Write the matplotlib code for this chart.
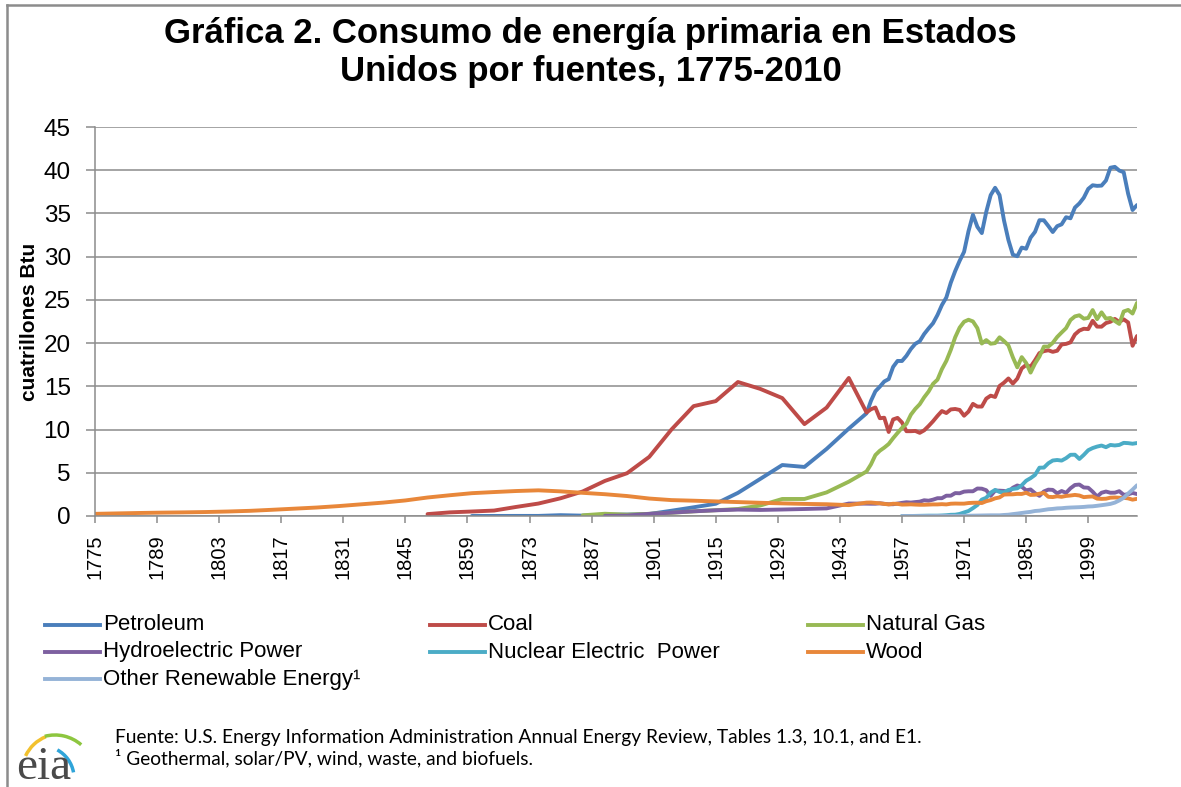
import matplotlib
matplotlib.use('Agg')
import matplotlib.pyplot as plt
from matplotlib.lines import Line2D
from matplotlib.patches import Arc

# ---- data (quadrillion Btu), 5-year steps before 1949, annual after ----
years_5 = list(range(1775, 1950, 5))
years_an = list(range(1949, 2011))
years_nuc = list(range(1957, 2011))

petroleum_early = [0.003, 0.006, 0.011, 0.011, 0.096, 0.040, 0.156, 0.168,
                   0.229, 0.610, 1.007, 1.418, 2.676, 4.280, 5.897, 5.675,
                   7.760, 10.110]  # 1860-1945
petroleum = [11.88, 13.32, 14.43, 14.96, 15.56, 15.84, 17.25, 17.94, 17.93,
             18.53, 19.32, 19.92, 20.22, 21.05, 21.70, 22.30, 23.25, 24.40,
             25.28, 26.98, 28.34, 29.52, 30.56, 32.95, 34.84, 33.45, 32.73,
             35.18, 37.12, 37.97, 37.12, 34.20, 31.93, 30.23, 30.05, 31.05,
             30.92, 32.20, 32.87, 34.22, 34.21, 33.55, 32.85, 33.53, 33.74,
             34.56, 34.44, 35.68, 36.16, 36.82, 37.84, 38.26, 38.19, 38.22,
             38.81, 40.29, 40.39, 39.96, 39.77, 37.28, 35.40, 35.97]

coal_early = [0.22, 0.42, 0.52, 0.63, 1.05, 1.44, 2.05, 2.84, 4.06, 4.95,
              6.84, 10.00, 12.71, 13.29, 15.50, 14.71, 13.64, 10.63, 12.54,
              15.97]  # 1850-1945
coal = [11.98, 12.35, 12.55, 11.31, 11.37, 9.72, 11.17, 11.35, 10.82, 9.81,
        9.81, 9.84, 9.62, 9.91, 10.41, 10.96, 11.58, 12.14, 11.91, 12.33,
        12.38, 12.27, 11.60, 12.08, 12.97, 12.66, 12.66, 13.58, 13.92, 13.77,
        15.04, 15.42, 15.91, 15.32, 15.89, 17.07, 17.48, 17.26, 18.01, 18.85,
        19.07, 19.17, 18.99, 19.12, 19.84, 19.91, 20.09, 21.00, 21.45, 21.66,
        21.62, 22.58, 21.91, 21.90, 22.32, 22.47, 22.80, 22.45, 22.75, 22.39,
        19.69, 20.82]

gas_early = [0.08, 0.26, 0.15, 0.25, 0.37, 0.54, 0.67, 0.81, 1.21, 1.97,
             1.97, 2.73, 3.97]  # 1885-1945
gas = [5.15, 5.97, 7.05, 7.55, 7.91, 8.33, 9.00, 9.61, 10.19, 10.66, 11.72,
       12.39, 12.93, 13.73, 14.40, 15.29, 15.77, 16.99, 17.94, 19.21, 20.68,
       21.79, 22.47, 22.70, 22.51, 21.73, 19.95, 20.35, 19.93, 20.00, 20.67,
       20.24, 19.74, 18.36, 17.20, 18.38, 17.70, 16.59, 17.64, 18.45, 19.60,
       19.60, 20.03, 20.71, 21.23, 21.73, 22.67, 23.09, 23.22, 22.83, 22.91,
       23.82, 22.77, 23.56, 22.83, 22.91, 22.56, 22.22, 23.66, 23.84, 23.42,
       24.65]

hydro_early = [0.02, 0.05, 0.25, 0.39, 0.54, 0.66, 0.74, 0.70, 0.75, 0.81,
               0.88, 1.44]  # 1890-1945
hydro = [1.43, 1.42, 1.42, 1.47, 1.41, 1.36, 1.36, 1.44, 1.52, 1.59, 1.55,
         1.61, 1.66, 1.82, 1.77, 1.89, 2.06, 2.06, 2.35, 2.35, 2.65, 2.63,
         2.82, 2.86, 2.86, 3.18, 3.16, 2.98, 2.33, 2.94, 2.93, 2.90, 2.76,
         3.27, 3.53, 3.39, 2.97, 3.07, 2.64, 2.33, 2.84, 3.05, 3.02, 2.62,
         2.89, 2.68, 3.21, 3.59, 3.64, 3.30, 3.27, 2.81, 2.24, 2.69, 2.83,
         2.69, 2.70, 2.87, 2.45, 2.51, 2.67, 2.54]

nuclear = [0.00, 0.00, 0.00, 0.01, 0.02, 0.03, 0.04, 0.04, 0.04, 0.06, 0.09,
           0.14, 0.15, 0.24, 0.41, 0.58, 0.91, 1.27, 1.90, 2.11, 2.70, 3.02,
           2.78, 2.74, 3.01, 3.13, 3.20, 3.55, 4.08, 4.38, 4.75, 5.59, 5.60,
           6.10, 6.42, 6.48, 6.41, 6.69, 7.08, 7.09, 6.60, 7.07, 7.61, 7.86,
           8.03, 8.15, 7.96, 8.22, 8.16, 8.22, 8.46, 8.43, 8.36, 8.44]

wood_early = [0.25, 0.30, 0.35, 0.39, 0.42, 0.46, 0.52, 0.60, 0.72, 0.85,
              0.98, 1.15, 1.35, 1.55, 1.80, 2.14, 2.40, 2.64, 2.77, 2.89,
              2.97, 2.85, 2.68, 2.52, 2.31, 2.02, 1.84, 1.77, 1.69, 1.61,
              1.53, 1.46, 1.40, 1.36, 1.26]  # 1775-1945
wood = [1.55, 1.56, 1.51, 1.47, 1.40, 1.34, 1.42, 1.40, 1.32, 1.33, 1.35,
        1.32, 1.30, 1.30, 1.32, 1.34, 1.34, 1.37, 1.34, 1.42, 1.44, 1.43,
        1.43, 1.50, 1.53, 1.54, 1.50, 1.71, 1.84, 2.04, 2.15, 2.48, 2.50,
        2.51, 2.56, 2.55, 2.69, 2.44, 2.46, 2.58, 2.68, 2.22, 2.19, 2.28,
        2.22, 2.32, 2.37, 2.44, 2.37, 2.18, 2.23, 2.26, 2.01, 1.98, 2.00,
        2.12, 2.14, 2.11, 2.10, 2.04, 1.89, 1.99]

other = [0.00, 0.00, 0.00, 0.00, 0.00, 0.00, 0.00, 0.00, 0.01, 0.01, 0.01,
         0.01, 0.01, 0.01, 0.02, 0.03, 0.04, 0.05, 0.06, 0.07, 0.08, 0.08,
         0.08, 0.12, 0.15, 0.22, 0.28, 0.35, 0.42, 0.48, 0.58, 0.62, 0.70,
         0.78, 0.82, 0.88, 0.90, 0.95, 0.98, 1.00, 1.02, 1.05, 1.10, 1.12,
         1.18, 1.25, 1.32, 1.40, 1.55, 1.80, 2.10, 2.60, 3.05, 3.55]

names = ['Petroleum', 'Coal', 'Natural Gas', 'Hydroelectric Power',
         'Nuclear Electric  Power', 'Wood', 'Other Renewable Energy\u00b9']
colors = ['#4A7EBB', '#BE4B48', '#98B954', '#7D60A0', '#4BACC6', '#E8873A',
          '#95B3D7']

series = [
    (years_5[17:] + years_an, petroleum_early + petroleum),
    (years_5[15:] + years_an, coal_early + coal),
    (years_5[22:] + years_an, gas_early + gas),
    (years_5[23:] + years_an, hydro_early + hydro),
    (years_nuc, nuclear),
    (years_5 + years_an, wood_early + wood),
    (years_nuc, other),
]

W, H = 1181, 787
fig = plt.figure(figsize=(W / 100, H / 100), dpi=100)
fig.patch.set_facecolor('white')
ax = fig.add_axes([95 / W, 1 - 516 / H, (1137 - 95) / W, (516 - 127) / H])

for (xs, ys), c in zip(series, colors):
    ax.plot(xs, ys, color=c, lw=2.8, solid_joinstyle='round',
            solid_capstyle='round')

ax.set_xlim(1775, 2010)
ax.set_ylim(0, 45)
ax.set_yticks(range(0, 46, 5))
ax.set_xticks(range(1775, 2010, 14))
ax.grid(axis='y', color='#8c8c8c', lw=1.1)
ax.set_axisbelow(True)
for s in ['top', 'right']:
    ax.spines[s].set_visible(False)
for s in ['left', 'bottom']:
    ax.spines[s].set_color('#8c8c8c')
    ax.spines[s].set_linewidth(1.1)
ax.tick_params(axis='y', length=6.5, color='#8c8c8c', width=1.1,
               labelsize=17.5, pad=11)
ax.tick_params(axis='x', length=5, color='#8c8c8c', width=1.1,
               labelsize=14.5, labelrotation=90, pad=8)
for lab in ax.get_xticklabels() + ax.get_yticklabels():
    lab.set_family('Liberation Sans')
ax.set_ylabel('cuatrillones Btu', fontsize=15, fontweight='bold',
              family='Liberation Sans')
ax.yaxis.set_label_coords(-56 / (1137 - 95), 0.5)

fig.text(0.5, 1 - 34 / H, 'Gr\u00e1fica 2. Consumo de energ\u00eda primaria en Estados',
         ha='center', va='center', fontsize=25, fontweight='bold',
         family='Liberation Sans')
fig.text(0.5, 1 - 72 / H, 'Unidos por fuentes, 1775-2010',
         ha='center', va='center', fontsize=25, fontweight='bold',
         family='Liberation Sans')

# legend, three columns filled row by row
col_x = [45, 430, 808]
row_y = [625, 652, 679]
for i, (name, c) in enumerate(zip(names, colors)):
    cx = col_x[i % 3]
    ry = row_y[i // 3]
    fig.add_artist(Line2D([cx / W, (cx + 55) / W], [1 - ry / H, 1 - ry / H],
                          color=c, lw=2.8))
    fig.text((cx + 58) / W, 1 - ry / H, name, ha='left', va='center',
             fontsize=16, family='Liberation Sans')

# source notes
fig.text(115 / W, 1 - 738 / H,
         'Fuente: U.S. Energy Information Administration Annual Energy Review, '
         'Tables 1.3, 10.1, and E1.',
         ha='left', va='center', fontsize=13.8, family='Lato')
fig.text(115 / W, 1 - 758 / H,
         '\u00b9 Geothermal, solar/PV, wind, waste, and biofuels.',
         ha='left', va='center', fontsize=13.8, family='Lato')

# eia logo
fig.text(44 / W, 1 - 779 / H, 'eia', ha='center', va='baseline', fontsize=34,
         color='#4a4a4a', family='Liberation Serif')
for cx, cy, r, c, th in [(60, 772, 38, '#F2C12E', (105, 145)),
                         (55, 775, 40, '#8DC63F', (60, 100)),
                         (42, 778, 32, '#2FA4D9', (15, 70))]:
    fig.add_artist(Arc((cx / W, 1 - cy / H), 2 * r / W, 2 * r / H,
                       theta1=th[0], theta2=th[1], color=c, lw=2.5,
                       transform=fig.transFigure))

# chart border
fig.add_artist(Line2D([7 / W, 7 / W], [0, 1 - 5 / H], color='#8c8c8c', lw=1.8))
fig.add_artist(Line2D([7 / W, 1], [1 - 5 / H, 1 - 5 / H],
                      color='#8c8c8c', lw=1.8))

fig.savefig('out.png', dpi=100)
